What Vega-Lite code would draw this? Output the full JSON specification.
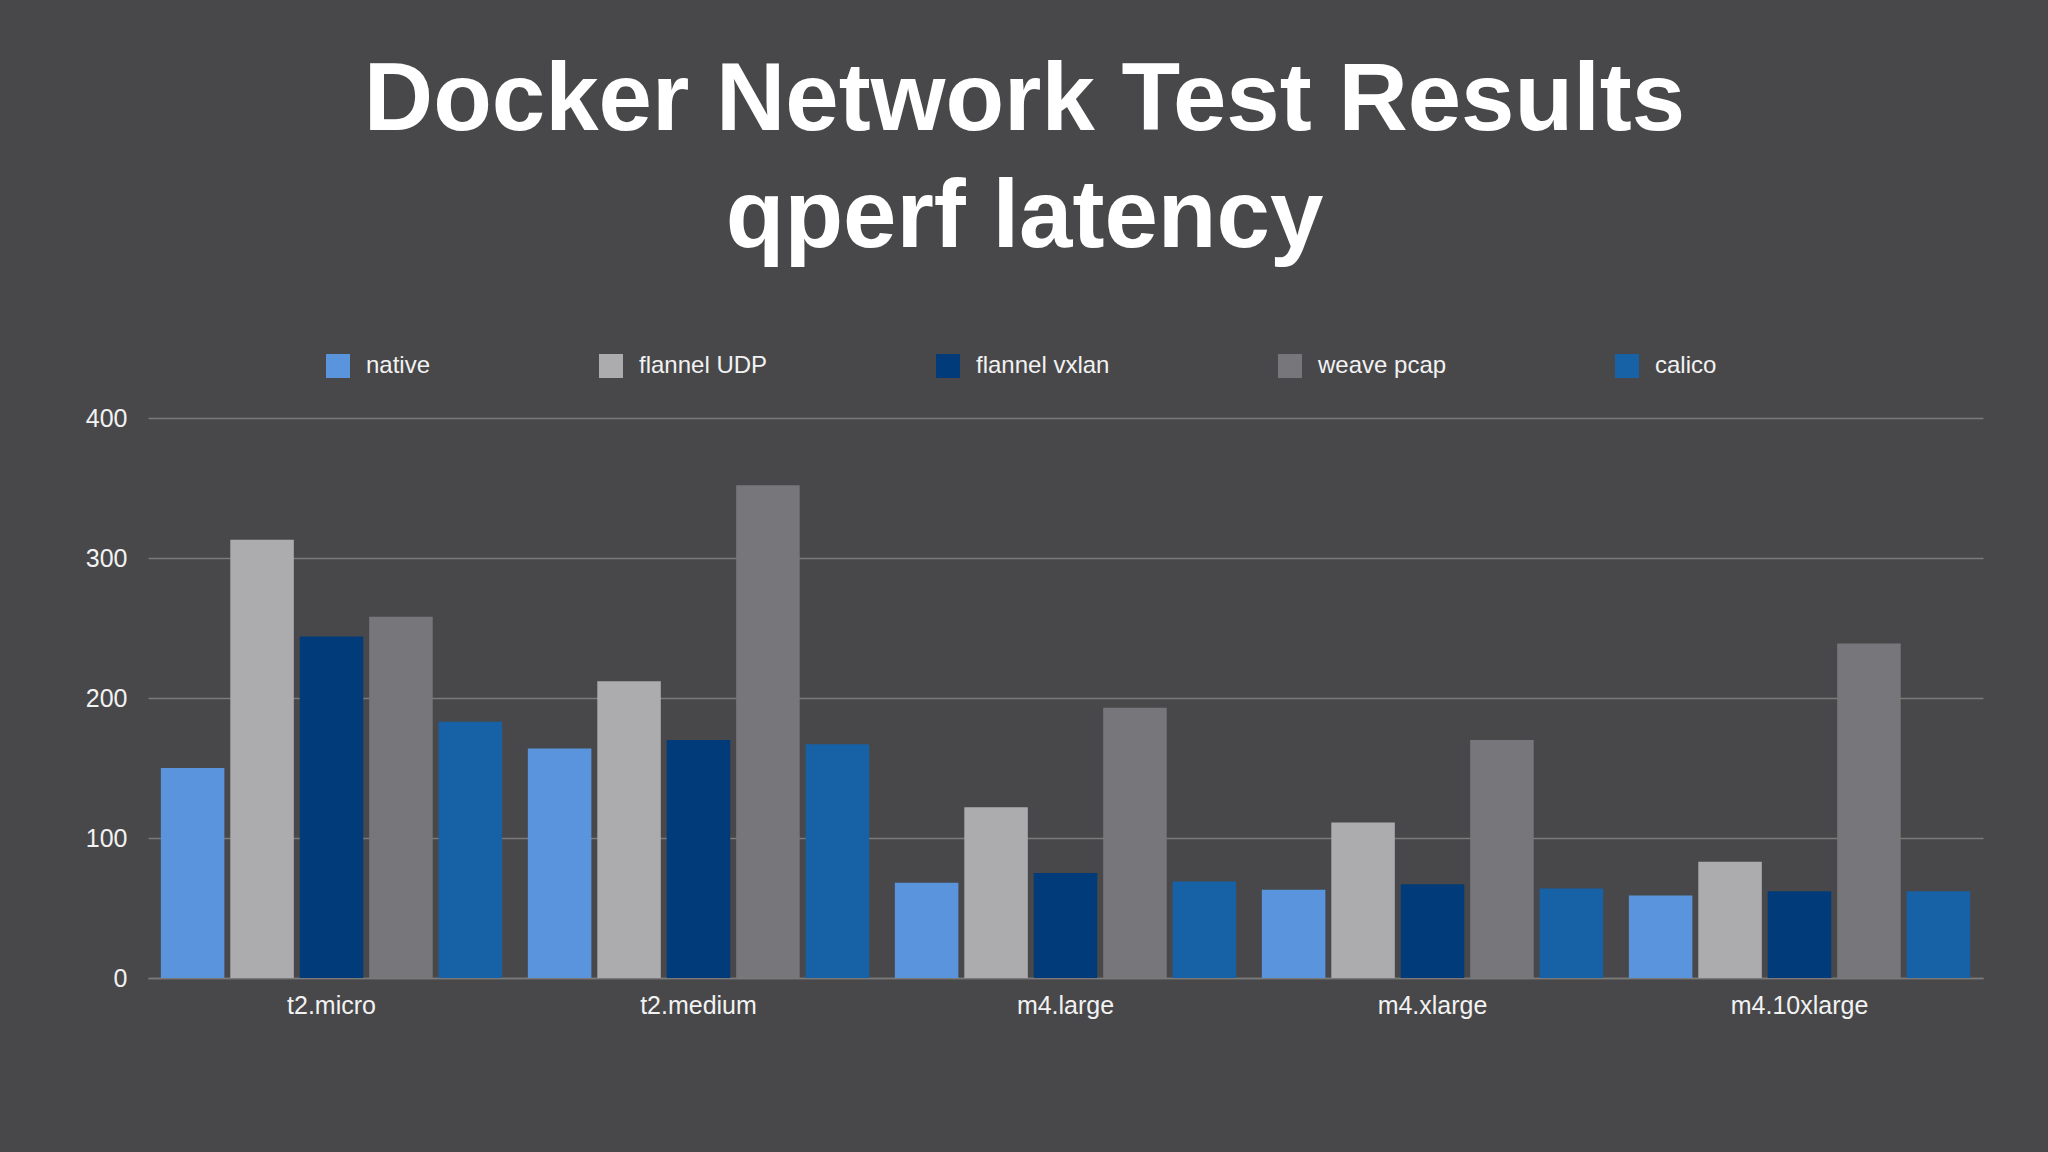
{
  "$schema": "https://vega.github.io/schema/vega-lite/v6.json",
  "width": 1835,
  "height": 560,
  "autosize": {"type": "none"},
  "padding": {"left": 148, "top": 418, "right": 65, "bottom": 174},
  "background": "#48484a",
  "config": {
    "view": {"stroke": null},
    "font": "Liberation Sans"
  },
  "title": {
    "text": ["Docker Network Test Results", "qperf latency"],
    "fontSize": 96,
    "fontWeight": "bold",
    "font": "Liberation Sans",
    "color": "#ffffff",
    "lineHeight": 117,
    "anchor": "middle",
    "frame": "group",
    "dx": -41,
    "offset": 87
  },
  "data": {
    "values": [
      {"instance": "t2.micro", "network": "native", "latency": 150},
      {"instance": "t2.micro", "network": "flannel UDP", "latency": 313},
      {"instance": "t2.micro", "network": "flannel vxlan", "latency": 244},
      {"instance": "t2.micro", "network": "weave pcap", "latency": 258},
      {"instance": "t2.micro", "network": "calico", "latency": 183},
      {"instance": "t2.medium", "network": "native", "latency": 164},
      {"instance": "t2.medium", "network": "flannel UDP", "latency": 212},
      {"instance": "t2.medium", "network": "flannel vxlan", "latency": 170},
      {"instance": "t2.medium", "network": "weave pcap", "latency": 352},
      {"instance": "t2.medium", "network": "calico", "latency": 167},
      {"instance": "m4.large", "network": "native", "latency": 68},
      {"instance": "m4.large", "network": "flannel UDP", "latency": 122},
      {"instance": "m4.large", "network": "flannel vxlan", "latency": 75},
      {"instance": "m4.large", "network": "weave pcap", "latency": 193},
      {"instance": "m4.large", "network": "calico", "latency": 69},
      {"instance": "m4.xlarge", "network": "native", "latency": 63},
      {"instance": "m4.xlarge", "network": "flannel UDP", "latency": 111},
      {"instance": "m4.xlarge", "network": "flannel vxlan", "latency": 67},
      {"instance": "m4.xlarge", "network": "weave pcap", "latency": 170},
      {"instance": "m4.xlarge", "network": "calico", "latency": 64},
      {"instance": "m4.10xlarge", "network": "native", "latency": 59},
      {"instance": "m4.10xlarge", "network": "flannel UDP", "latency": 83},
      {"instance": "m4.10xlarge", "network": "flannel vxlan", "latency": 62},
      {"instance": "m4.10xlarge", "network": "weave pcap", "latency": 239},
      {"instance": "m4.10xlarge", "network": "calico", "latency": 62}
    ]
  },
  "mark": {"type": "bar"},
  "encoding": {
    "x": {
      "field": "instance",
      "type": "nominal",
      "sort": ["t2.micro", "t2.medium", "m4.large", "m4.xlarge", "m4.10xlarge"],
      "scale": {"paddingInner": 0.07, "paddingOuter": 0.035},
      "axis": {
        "title": null,
        "labelAngle": 0,
        "labelFontSize": 25,
        "labelColor": "#f2f2f2",
        "labelPadding": 15,
        "ticks": false,
        "domainColor": "#7a7a7a",
        "domainWidth": 1.5
      }
    },
    "xOffset": {
      "field": "network",
      "type": "nominal",
      "sort": ["native", "flannel UDP", "flannel vxlan", "weave pcap", "calico"],
      "scale": {"paddingInner": 0.085, "paddingOuter": 0}
    },
    "y": {
      "field": "latency",
      "type": "quantitative",
      "scale": {"domain": [0, 400]},
      "axis": {
        "title": null,
        "values": [0, 100, 200, 300, 400],
        "labelFontSize": 25,
        "labelColor": "#f2f2f2",
        "labelPadding": 21,
        "ticks": false,
        "domain": false,
        "gridColor": "#7a7a7a",
        "gridWidth": 1.5
      }
    },
    "color": {
      "field": "network",
      "type": "nominal",
      "scale": {
        "domain": ["native", "flannel UDP", "flannel vxlan", "weave pcap", "calico"],
        "range": ["#5a94dc", "#acabae", "#013b79", "#77767a", "#1761a7"]
      },
      "legend": {
        "title": null,
        "orient": "none",
        "direction": "horizontal",
        "legendX": 178,
        "legendY": -64,
        "padding": 0,
        "symbolType": "square",
        "symbolSize": 576,
        "symbolStrokeWidth": 0,
        "symbolOpacity": 1,
        "labelFontSize": 24,
        "labelColor": "#f2f2f2",
        "labelOffset": 16,
        "columnPadding": 168
      }
    }
  }
}
